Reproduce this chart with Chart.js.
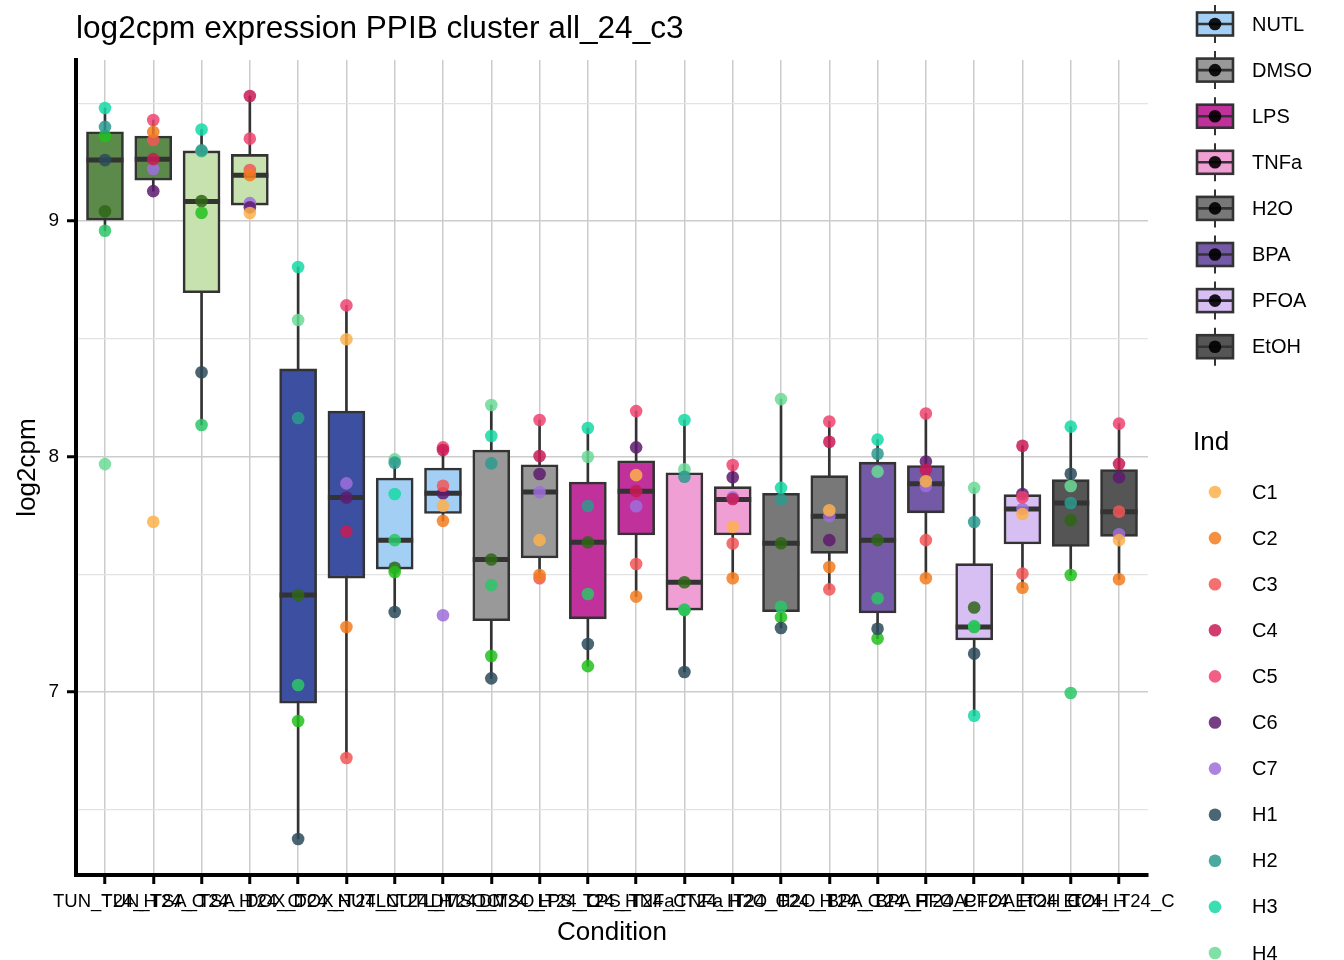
<!DOCTYPE html>
<html>
<head>
    <title>log2cpm expression PPIB cluster all_24_c3</title>
    <script src="https://cdn.jsdelivr.net/npm/chart.js"></script>
    <style>
        body {
            margin: 0;
            padding: 0;
            background: #fff;
        }
        #chart-container {
            width: 1344px;
            height: 960px;
        }
    </style>
</head>
<body>
    <div id="chart-container">
        <canvas id="myChart" width="1344" height="960"></canvas>
    </div>

    <script>
        const chartTitle = 'log2cpm expression PPIB cluster all_24_c3';

        const conditions = [
            'TUN_T24_H', 'TUN_T24_C', 'TSA_T24_H', 'TSA_T24_C', 'DOX_T24_H', 'DOX_T24_C',
            'NUTL_T24_H', 'NUTL_T24_C', 'DMSO_T24_H', 'DMSO_T24_C', 'LPS_T24_H', 'LPS_T24_C',
            'TNFa_T24_H', 'TNFa_T24_C', 'H2O_T24_H', 'H2O_T24_C', 'BPA_T24_H', 'BPA_T24_C',
            'PFOA_T24_H', 'PFOA_T24_C', 'EtOH_T24_H', 'EtOH_T24_C'
        ];

        const treatmentColors = {
            TUN: '#5b8a4b', TSA: '#c7e2af', DOX: '#3c4fa0', NUTL: '#a3cff5',
            DMSO: '#999999', LPS: '#c0319b', TNFa: '#f09fd5', H2O: '#787878',
            BPA: '#7459a6', PFOA: '#d8bff3', EtOH: '#555555'
        };
        const legendTreatments = ['NUTL', 'DMSO', 'LPS', 'TNFa', 'H2O', 'BPA', 'PFOA', 'EtOH'];

        // box statistics per condition
        const whiskerLow  = [8.959, 9.127, 8.134, 9.034, 6.376, 6.720, 7.340, 7.727, 7.058, 7.483, 7.110,
                             7.405, 7.085, 7.483, 7.272, 7.436, 7.227, 7.483, 6.899, 7.443, 7.497, 7.479];
        const boxQ1       = [9.004, 9.174, 8.696, 9.068, 6.953, 7.484, 7.522, 7.758, 7.303, 7.569, 7.311,
                             7.667, 7.348, 7.667, 7.341, 7.589, 7.336, 7.761, 7.221, 7.629, 7.618, 7.661];
        const boxMedian   = [9.259, 9.263, 9.083, 9.195, 7.412, 7.826, 7.645, 7.844, 7.563, 7.849, 7.636,
                             7.853, 7.466, 7.818, 7.632, 7.747, 7.645, 7.884, 7.276, 7.777, 7.803, 7.766];
        const boxQ3       = [9.379, 9.361, 9.298, 9.283, 8.372, 8.193, 7.909, 7.951, 8.028, 7.965, 7.892,
                             7.982, 7.931, 7.872, 7.844, 7.919, 7.976, 7.962, 7.545, 7.838, 7.902, 7.945];
        const whiskerHigh = [9.480, 9.429, 9.389, 9.531, 8.805, 8.642, 7.988, 8.039, 8.219, 8.155, 8.121,
                             8.193, 8.155, 7.964, 8.244, 8.149, 8.072, 8.183, 7.867, 8.046, 8.127, 8.140];

        // one value per treatment (TUN .. EtOH); C individuals sit in the _C conditions, H in the _H ones
        const individuals = ['C1', 'C2', 'C3', 'C4', 'C5', 'C6', 'C7', 'H1', 'H2', 'H3', 'H4', 'H5', 'H6', 'H7'];
        const indColors = ['#fdb04b', '#f47c20', '#f25757', '#c81b55', '#f04370', '#5f1b6e', '#9e6fdb',
                           '#2d4a5a', '#2c9a8e', '#17d8a6', '#6adb96', '#2bc566', '#22c11d', '#2f6618'];
        const C1 = [7.723, 9.034, 8.498, 7.791, 7.645, 7.921, 7.702, 7.772, 7.895, 7.756, 7.645];
        const C2 = [9.378, 9.195, 7.276, 7.727, 7.497, 7.405, 7.483, 7.531, 7.483, 7.443, 7.479];
        const C3 = [9.344, 9.217, 6.720, 7.876, 7.483, 7.544, 7.631, 7.436, 7.645, 7.503, 7.766];
        const C4 = [9.263, 9.531, 7.681, 8.028, 8.002, 7.853, 7.820, 8.063, 7.944, 8.046, 7.969];
        const C5 = [9.429, 9.350, 8.642, 8.039, 8.155, 8.193, 7.964, 8.149, 8.183, 7.827, 8.140];
        const C6 = [9.127, 9.059, 7.826, 7.844, 7.926, 8.039, 7.912, 7.645, 7.979, 7.841, 7.912];
        const C7 = [9.221, 9.076, 7.886, 7.326, 7.849, 7.789, 7.827, 7.747, 7.875, 7.777, 7.670];
        const H1 = [9.259, 8.358, 6.376, 7.340, 7.058, 7.204, 7.085, 7.272, 7.269, 7.163, 7.927];
        const H2 = [9.400, 9.300, 8.164, 7.974, 7.971, 7.790, 7.914, 7.817, 8.012, 7.722, 7.803];
        const H3 = [9.480, 9.389, 8.805, 7.841, 8.087, 8.121, 8.155, 7.867, 8.072, 6.899, 8.127];
        const H4 = [7.968, 9.296, 8.580, 7.988, 8.219, 7.999, 7.946, 8.244, 7.936, 7.867, 7.875];
        const H5 = [8.959, 8.134, 7.030, 7.645, 7.454, 7.416, 7.350, 7.362, 7.398, 7.280, 6.996];
        const H6 = [9.361, 9.035, 6.877, 7.510, 7.153, 7.110, 7.348, 7.318, 7.227, 7.276, 7.497];
        const H7 = [9.042, 9.085, 7.412, 7.528, 7.563, 7.636, 7.466, 7.632, 7.645, 7.359, 7.730];
        const indValues = [C1, C2, C3, C4, C5, C6, C7, H1, H2, H3, H4, H5, H6, H7];

        const yMajorTicks = [7, 8, 9];
        const yMinorTicks = [6.5, 7.5, 8.5, 9.5];
        const yMin = 6.223;
        const yMax = 9.684;

        const FONT = '"Liberation Sans", Arial, sans-serif';
        Chart.defaults.font.family = FONT;
        Chart.defaults.color = '#000';

        function withAlpha(hex, a) {
            const n = parseInt(hex.slice(1), 16);
            return `rgba(${(n >> 16) & 255}, ${(n >> 8) & 255}, ${n & 255}, ${a})`;
        }

        const xIdx = conditions.map((_, i) => i);
        const boxFill = conditions.map(c => treatmentColors[c.split('_')[0]]);

        const datasets = [
            {
                type: 'bar',
                label: 'whisker',
                data: xIdx.map(i => ({ x: i, y: [whiskerLow[i], whiskerHigh[i]] })),
                backgroundColor: '#333333',
                borderWidth: 0,
                barThickness: 2,
                grouped: false,
                order: 3
            },
            {
                type: 'bar',
                label: 'box',
                data: xIdx.map(i => ({ x: i, y: [boxQ1[i], boxQ3[i]] })),
                backgroundColor: boxFill,
                borderColor: '#333333',
                borderWidth: 2.6,
                borderSkipped: false,
                barThickness: 37,
                grouped: false,
                order: 2
            },
            {
                type: 'scatter',
                label: 'median',
                data: xIdx.map(i => ({ x: i, y: boxMedian[i] })),
                pointStyle: 'line',
                pointRadius: 18.5,
                borderColor: '#333333',
                borderWidth: 5,
                order: 1
            }
        ];

        individuals.forEach((ind, k) => {
            const offset = ind[0] === 'C' ? 1 : 0;
            datasets.push({
                type: 'scatter',
                label: ind,
                data: indValues[k].map((v, t) => ({ x: 2 * t + offset, y: v })),
                backgroundColor: withAlpha(indColors[k], 0.85),
                borderWidth: 0,
                pointRadius: 6.3,
                order: 0
            });
        });

        const sideLegends = {
            id: 'sideLegends',
            afterDraw(chart) {
                const ctx = chart.ctx;
                ctx.save();
                ctx.fillStyle = '#000';
                ctx.textAlign = 'left';
                ctx.textBaseline = 'middle';
                ctx.font = '31.6px ' + FONT;
                ctx.fillText(chartTitle, 76, 29);

                // treatment legend
                legendTreatments.forEach((t, k) => {
                    const cy = 24 + k * 46.1;
                    const cx = 1215;
                    ctx.strokeStyle = '#333333';
                    ctx.lineWidth = 2;
                    ctx.beginPath();
                    ctx.moveTo(cx, cy - 19);
                    ctx.lineTo(cx, cy + 19);
                    ctx.stroke();
                    ctx.fillStyle = treatmentColors[t];
                    ctx.fillRect(cx - 18, cy - 11.5, 36, 23);
                    ctx.lineWidth = 2.6;
                    ctx.strokeRect(cx - 18, cy - 11.5, 36, 23);
                    ctx.beginPath();
                    ctx.moveTo(cx - 18, cy);
                    ctx.lineTo(cx + 18, cy);
                    ctx.stroke();
                    ctx.fillStyle = 'rgba(0, 0, 0, 0.9)';
                    ctx.beginPath();
                    ctx.arc(cx, cy, 6.3, 0, Math.PI * 2);
                    ctx.fill();
                    ctx.fillStyle = '#000';
                    ctx.font = '20px ' + FONT;
                    ctx.fillText(t, 1252, cy + 1);
                });

                // individual legend
                ctx.font = '26px ' + FONT;
                ctx.fillText('Ind', 1193, 443);
                individuals.forEach((ind, k) => {
                    const cy = 492 + k * 46.1;
                    ctx.fillStyle = withAlpha(indColors[k], 0.85);
                    ctx.beginPath();
                    ctx.arc(1215, cy, 6.3, 0, Math.PI * 2);
                    ctx.fill();
                    ctx.fillStyle = '#000';
                    ctx.font = '20px ' + FONT;
                    ctx.fillText(ind, 1252, cy + 1);
                });
                ctx.restore();
            }
        };

        const isMajor = v => yMajorTicks.some(m => Math.abs(m - v) < 1e-9);

        new Chart(document.getElementById('myChart'), {
            type: 'bar',
            data: { datasets: datasets },
            options: {
                responsive: false,
                animation: false,
                events: [],
                layout: { padding: { top: 60, right: 196, left: 0, bottom: 0 } },
                plugins: {
                    legend: { display: false },
                    tooltip: { enabled: false },
                    title: { display: false }
                },
                scales: {
                    x: {
                        type: 'linear',
                        offset: false,
                        min: -0.6,
                        max: conditions.length - 0.4,
                        afterBuildTicks: scale => {
                            scale.ticks = xIdx.map(i => ({ value: i }));
                        },
                        afterFit: scale => { scale.height = 85; },
                        ticks: {
                            autoSkip: false,
                            maxRotation: 0,
                            minRotation: 0,
                            padding: 7,
                            color: '#000',
                            font: { size: 18.5 },
                            callback: v => conditions[v]
                        },
                        grid: {
                            offset: false,
                            color: '#cccccc',
                            lineWidth: 1.5,
                            tickColor: '#000',
                            tickLength: 9,
                            tickWidth: 3
                        },
                        border: { display: true, color: '#000', width: 4 },
                        title: {
                            display: true,
                            text: 'Condition',
                            color: '#000',
                            font: { size: 26 },
                            padding: { top: 0, bottom: 12 }
                        }
                    },
                    y: {
                        type: 'linear',
                        min: yMin,
                        max: yMax,
                        afterBuildTicks: scale => {
                            scale.ticks = yMinorTicks.concat(yMajorTicks)
                                .sort((a, b) => a - b)
                                .map(v => ({ value: v }));
                        },
                        afterFit: scale => { scale.width = 76; },
                        ticks: {
                            padding: 8,
                            color: '#000',
                            font: { size: 19 },
                            callback: v => isMajor(v) ? String(v) : ''
                        },
                        grid: {
                            color: ctx => isMajor(ctx.tick.value) ? '#cccccc' : '#e3e3e3',
                            lineWidth: ctx => isMajor(ctx.tick.value) ? 1.5 : 1.2,
                            tickColor: ctx => isMajor(ctx.tick.value) ? '#000' : 'rgba(0,0,0,0)',
                            tickLength: 9,
                            tickWidth: 3
                        },
                        border: { display: true, color: '#000', width: 4 },
                        title: {
                            display: true,
                            text: 'log2cpm',
                            color: '#000',
                            font: { size: 26 },
                            padding: { top: 12, bottom: 0 }
                        }
                    }
                }
            },
            plugins: [sideLegends]
        });
    </script>
</body>
</html>
